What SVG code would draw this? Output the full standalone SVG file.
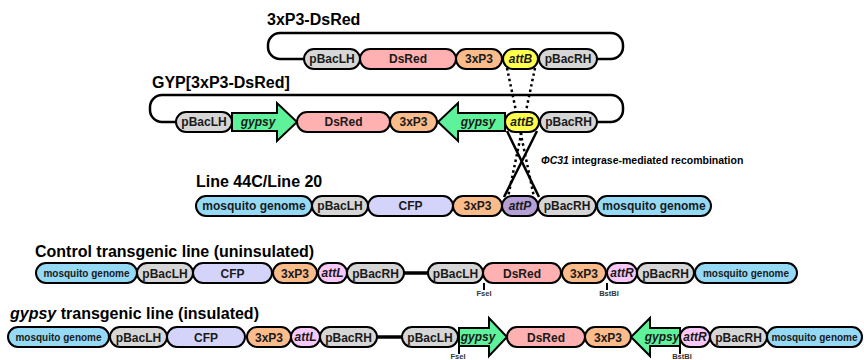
<svg xmlns="http://www.w3.org/2000/svg" width="864" height="360" viewBox="0 0 864 360">
<style>
.t{font-family:"Liberation Sans",Arial,sans-serif;font-weight:bold;fill:#000}
.title{font-size:16px}
.p{stroke:#000;stroke-width:2}
.lbl{font-family:"Liberation Sans",Arial,sans-serif;font-weight:bold;font-size:12px;fill:#1a1a1a;text-anchor:middle}
.sm{font-size:10px}
.it{font-style:italic}
.pbac{fill:#d6d6d6}
.dsred{fill:#ffb0b0}
.p3{fill:#fbbc8c}
.attb{fill:#ffff4d}
.gyp{fill:#5ef29b}
.cfp{fill:#d4d4fa}
.mos{fill:#96d9f5}
.attp{fill:#b5a0d6}
.attl{fill:#f8c8f8}
.loop{fill:none;stroke:#000;stroke-width:2.5}
.link{stroke:#000;stroke-width:3.5}
.tick{stroke:#000;stroke-width:2}
.site{font-family:"Liberation Sans",Arial,sans-serif;font-weight:bold;font-size:7.5px;fill:#333;text-anchor:middle}
</style>

<!-- titles -->
<text class="t title" x="267" y="25">3xP3-DsRed</text>
<text class="t title" x="152" y="88">GYP[3xP3-DsRed]</text>
<text class="t title" x="196" y="187">Line 44C/Line 20</text>
<text class="t title" x="35" y="257">Control transgenic line (uninsulated)</text>
<text class="t title" x="10" y="319"><tspan font-style="italic">gypsy</tspan> transgenic line (insulated)</text>
<text class="t" x="541" y="164" font-size="10.5px"><tspan font-style="italic">ΦC31</tspan> integrase-mediated recombination</text>

<!-- connectors -->
<g id="connectors">
  <rect class="loop" x="268" y="33" width="355" height="26" rx="12"/>
  <rect class="loop" x="150" y="95" width="473" height="27" rx="12"/>
  <line x1="507" y1="68" x2="534" y2="197" stroke="#000" stroke-width="2.5" stroke-dasharray="2.5,3"/>
  <line x1="535" y1="68" x2="508" y2="197" stroke="#000" stroke-width="2.5" stroke-dasharray="2.5,3"/>
  <line x1="507" y1="131" x2="539" y2="197" stroke="#000" stroke-width="2.5"/>
  <line x1="537" y1="131" x2="504" y2="197" stroke="#000" stroke-width="2.5"/>
  <line class="link" x1="403" y1="273" x2="429" y2="273"/>
  <line class="link" x1="376" y1="337" x2="403" y2="337"/>
  <line class="tick" x1="484" y1="283" x2="484" y2="290"/>
  <line class="tick" x1="607" y1="283" x2="607" y2="290"/>
  <line class="tick" x1="459" y1="346" x2="459" y2="354"/>
  <line class="tick" x1="680" y1="346" x2="680" y2="354"/>
</g>

<!-- row 1: 3xP3-DsRed -->
<g id="r1-pBacLH"><rect class="p pbac" x="304" y="49" width="56" height="20" rx="10"/><text class="lbl" x="332" y="63">pBacLH</text></g>
<g id="r1-DsRed"><rect class="p dsred" x="360" y="49" width="96" height="20" rx="10"/><text class="lbl" x="408" y="63">DsRed</text></g>
<g id="r1-3xP3"><rect class="p p3" x="456" y="49" width="46" height="20" rx="10"/><text class="lbl" x="479" y="63">3xP3</text></g>
<g id="r1-attB"><rect class="p attb" x="503" y="49" width="35" height="20" rx="10"/><text class="lbl it" x="520.5" y="63">attB</text></g>
<g id="r1-pBacRH"><rect class="p pbac" x="539" y="49" width="58" height="20" rx="10"/><text class="lbl" x="568" y="63">pBacRH</text></g>

<!-- row 2: GYP[3xP3-DsRed] -->
<g id="r2-pBacLH"><rect class="p pbac" x="176" y="112" width="56" height="20" rx="10"/><text class="lbl" x="204" y="126">pBacLH</text></g>
<g id="r2-gypsy1"><polygon class="p gyp" points="232,113 277,113 277,103 297,122 277,141 277,131 232,131"/><text class="lbl it" x="258" y="126" font-size="11px">gypsy</text></g>
<g id="r2-DsRed"><rect class="p dsred" x="297" y="112" width="93" height="20" rx="10"/><text class="lbl" x="343.5" y="126">DsRed</text></g>
<g id="r2-3xP3"><rect class="p p3" x="390" y="112" width="47" height="20" rx="10"/><text class="lbl" x="413.5" y="126">3xP3</text></g>
<g id="r2-gypsy2"><polygon class="p gyp" points="505,113 458,113 458,103 438,122 458,141 458,131 505,131"/><text class="lbl it" x="478" y="126" font-size="11px">gypsy</text></g>
<g id="r2-attB"><rect class="p attb" x="505" y="112" width="34" height="20" rx="10"/><text class="lbl it" x="522" y="126">attB</text></g>
<g id="r2-pBacRH"><rect class="p pbac" x="540" y="112" width="57" height="20" rx="10"/><text class="lbl" x="568.5" y="126">pBacRH</text></g>

<!-- row 3: Line 44C/Line 20 -->
<g id="r3-mos1"><rect class="p mos" x="196" y="196" width="116" height="20" rx="10"/><text class="lbl" x="254" y="210">mosquito genome</text></g>
<g id="r3-pBacLH"><rect class="p pbac" x="312" y="196" width="56" height="20" rx="10"/><text class="lbl" x="340" y="210">pBacLH</text></g>
<g id="r3-CFP"><rect class="p cfp" x="368" y="196" width="85" height="20" rx="10"/><text class="lbl" x="410.5" y="210">CFP</text></g>
<g id="r3-3xP3"><rect class="p p3" x="453" y="196" width="49" height="20" rx="10"/><text class="lbl" x="477.5" y="210">3xP3</text></g>
<g id="r3-attP"><rect class="p attp" x="502" y="196" width="36" height="20" rx="10"/><text class="lbl it" x="520" y="210">attP</text></g>
<g id="r3-pBacRH"><rect class="p pbac" x="538" y="196" width="58" height="20" rx="10"/><text class="lbl" x="567" y="210">pBacRH</text></g>
<g id="r3-mos2"><rect class="p mos" x="597" y="196" width="114" height="20" rx="10"/><text class="lbl" x="654" y="210">mosquito genome</text></g>

<!-- row 4: control -->
<g id="r4-mos1"><rect class="p mos" x="36" y="263" width="101" height="20" rx="10"/><text class="lbl sm" x="86.5" y="276.5">mosquito genome</text></g>
<g id="r4-pBacLH1"><rect class="p pbac" x="137" y="263" width="56" height="20" rx="10"/><text class="lbl" x="165" y="277.5" font-size="13px">pBacLH</text></g>
<g id="r4-CFP"><rect class="p cfp" x="193" y="263" width="79" height="20" rx="10"/><text class="lbl" x="232.5" y="277.5" font-size="13px">CFP</text></g>
<g id="r4-3xP3a"><rect class="p p3" x="273" y="263" width="44" height="20" rx="10"/><text class="lbl" x="295" y="277.5" font-size="13px">3xP3</text></g>
<g id="r4-attL"><rect class="p attl" x="318" y="263" width="29" height="20" rx="10"/><text class="lbl it" x="332.5" y="276.5" font-size="10.5px">attL</text></g>
<g id="r4-pBacRH1"><rect class="p pbac" x="347" y="263" width="57" height="20" rx="10"/><text class="lbl" x="375.5" y="277.5" font-size="13px">pBacRH</text></g>
<g id="r4-pBacLH2"><rect class="p pbac" x="428" y="263" width="55" height="20" rx="10"/><text class="lbl" x="455.5" y="277.5" font-size="13px">pBacLH</text></g>
<g id="r4-DsRed"><rect class="p dsred" x="483" y="263" width="78" height="20" rx="10"/><text class="lbl" x="522" y="277.5" font-size="13px">DsRed</text></g>
<g id="r4-3xP3b"><rect class="p p3" x="562" y="263" width="44" height="20" rx="10"/><text class="lbl" x="584" y="277.5" font-size="13px">3xP3</text></g>
<g id="r4-attR"><rect class="p attl" x="607" y="263" width="30" height="20" rx="10"/><text class="lbl it" x="622" y="276.5" font-size="10.5px">attR</text></g>
<g id="r4-pBacRH2"><rect class="p pbac" x="637" y="263" width="57" height="20" rx="10"/><text class="lbl" x="665.5" y="277.5" font-size="13px">pBacRH</text></g>
<g id="r4-mos2"><rect class="p mos" x="695" y="263" width="102" height="20" rx="10"/><text class="lbl sm" x="746" y="276.5">mosquito genome</text></g>
<g id="r4-FseI"><text class="site" x="484" y="296">FseI</text></g>
<g id="r4-BstBI"><text class="site" x="609" y="296">BstBI</text></g>

<!-- row 5: gypsy -->
<g id="r5-mos1"><rect class="p mos" x="8" y="327" width="101" height="20" rx="10"/><text class="lbl sm" x="58.5" y="340.5">mosquito genome</text></g>
<g id="r5-pBacLH1"><rect class="p pbac" x="110" y="327" width="57" height="20" rx="10"/><text class="lbl" x="138.5" y="341.5" font-size="13px">pBacLH</text></g>
<g id="r5-CFP"><rect class="p cfp" x="167" y="327" width="78" height="20" rx="10"/><text class="lbl" x="206" y="341.5" font-size="13px">CFP</text></g>
<g id="r5-3xP3a"><rect class="p p3" x="247" y="327" width="44" height="20" rx="10"/><text class="lbl" x="269" y="341.5" font-size="13px">3xP3</text></g>
<g id="r5-attL"><rect class="p attl" x="291" y="327" width="29" height="20" rx="10"/><text class="lbl it" x="305.5" y="340.5" font-size="10.5px">attL</text></g>
<g id="r5-pBacRH1"><rect class="p pbac" x="320" y="327" width="57" height="20" rx="10"/><text class="lbl" x="348.5" y="341.5" font-size="13px">pBacRH</text></g>
<g id="r5-pBacLH2"><rect class="p pbac" x="402" y="327" width="56" height="20" rx="10"/><text class="lbl" x="430" y="341.5" font-size="13px">pBacLH</text></g>
<g id="r5-gypsy1"><polygon class="p gyp" points="459,328 489,328 489,318 507,337 489,356 489,346 459,346"/><text class="lbl it" x="478" y="340.5" font-size="10px">gypsy</text></g>
<g id="r5-DsRed"><rect class="p dsred" x="507" y="327" width="78" height="20" rx="10"/><text class="lbl" x="546" y="341.5" font-size="13px">DsRed</text></g>
<g id="r5-3xP3b"><rect class="p p3" x="585" y="327" width="46" height="20" rx="10"/><text class="lbl" x="608" y="341.5" font-size="13px">3xP3</text></g>
<g id="r5-gypsy2"><polygon class="p gyp" points="680,328 650,328 650,318 631,337 650,356 650,346 680,346"/><text class="lbl it" x="662" y="340.5" font-size="10px">gypsy</text></g>
<g id="r5-attR"><rect class="p attl" x="680" y="327" width="30" height="20" rx="10"/><text class="lbl it" x="695" y="340.5" font-size="10.5px">attR</text></g>
<g id="r5-pBacRH2"><rect class="p pbac" x="710" y="327" width="57" height="20" rx="10"/><text class="lbl" x="738.5" y="341.5" font-size="13px">pBacRH</text></g>
<g id="r5-mos2"><rect class="p mos" x="767" y="327" width="95" height="20" rx="10"/><text class="lbl sm" x="814.5" y="340.5">mosquito genome</text></g>
<g id="r5-FseI"><text class="site" x="458" y="359">FseI</text></g>
<g id="r5-BstBI"><text class="site" x="682" y="359">BstBI</text></g>
</svg>
